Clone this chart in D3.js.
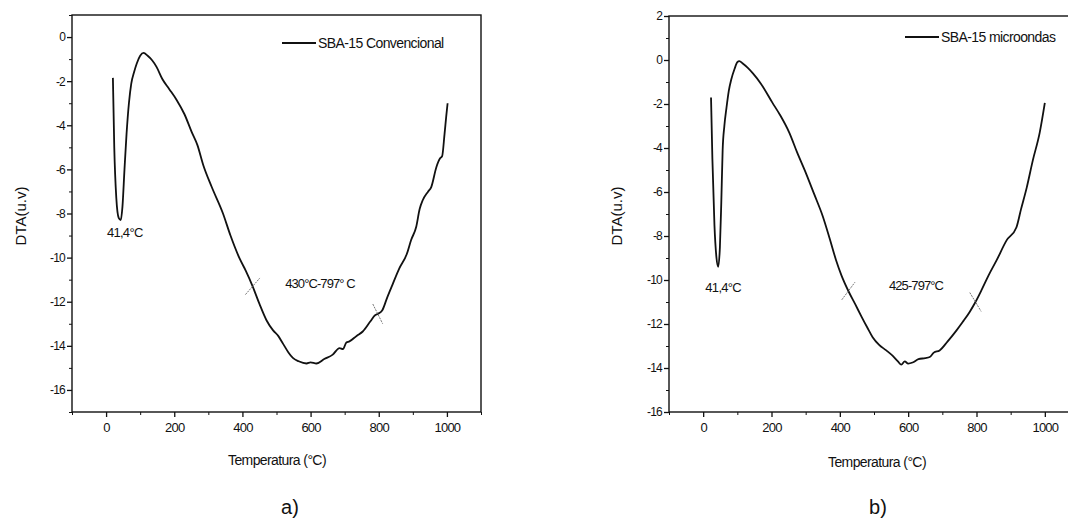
<!DOCTYPE html>
<html>
<head>
<meta charset="utf-8">
<script src="https://cdn.jsdelivr.net/npm/d3@7"></script>
<style>
  html, body { margin: 0; padding: 0; background: #fff; }
  svg { display: block; }
  text { font-family: "Liberation Sans", Arial, sans-serif; fill: #111; }
</style>
</head>
<body>
<svg id="chart" width="1068" height="524"></svg>
<script>
// DTA curve of conventional SBA-15: [temperature °C, signal u.v]
const convencionalData = [
  [20,-1.85],[24,-5.0],[30,-7.3],[37,-8.2],[43,-8.3],[48,-7.7],[54,-6.0],[60,-4.4],
  [67,-3.0],[74,-2.1],[82,-1.6],[90,-1.2],[100,-0.85],[110,-0.72],[122,-0.85],[135,-1.05],
  [148,-1.35],[165,-1.9],[185,-2.35],[207,-2.85],[230,-3.5],[251,-4.3],[268,-4.9],[285,-5.8],
  [310,-6.8],[343,-8.0],[365,-9.0],[392,-10.05],[410,-10.6],[430,-11.3],[450,-12.1],[471,-12.85],
  [490,-13.3],[505,-13.55],[519,-13.9],[535,-14.3],[548,-14.55],[565,-14.7],[588,-14.8],[600,-14.75],
  [617,-14.8],[640,-14.6],[665,-14.4],[685,-14.1],[695,-14.15],[705,-13.85],[714,-13.8],[735,-13.55],
  [753,-13.35],[775,-12.9],[790,-12.6],[797,-12.55],[810,-12.4],[825,-11.8],[841,-11.2],[860,-10.5],
  [882,-9.85],[895,-9.2],[910,-8.6],[920,-7.8],[929,-7.4],[945,-7.0],[954,-6.8],[969,-5.9],
  [980,-5.5],[986,-5.4],[993,-4.4],[998,-3.6],[1002,-3.0]
];

// DTA curve of microwave SBA-15
const microondasData = [
  [23,-1.7],[27,-4.5],[33,-7.5],[39,-9.0],[44,-9.4],[49,-8.5],[53,-6.5],[57,-4.1],
  [62,-3.0],[68,-2.2],[75,-1.4],[82,-0.9],[92,-0.4],[100,-0.1],[106,-0.05],[115,-0.15],
  [130,-0.35],[145,-0.6],[170,-1.1],[203,-1.95],[225,-2.5],[252,-3.3],[275,-4.2],[301,-5.15],
  [325,-6.1],[350,-7.1],[370,-8.1],[389,-9.1],[405,-9.8],[425,-10.5],[445,-11.1],[463,-11.65],
  [480,-12.15],[496,-12.6],[515,-12.95],[536,-13.2],[555,-13.45],[570,-13.7],[580,-13.85],[590,-13.7],
  [600,-13.8],[613,-13.75],[630,-13.6],[650,-13.55],[663,-13.5],[675,-13.3],[692,-13.2],[715,-12.8],
  [741,-12.3],[760,-11.9],[780,-11.45],[797,-11.0],[815,-10.45],[835,-9.8],[859,-9.1],[888,-8.2],
  [917,-7.6],[930,-6.8],[947,-5.8],[965,-4.55],[985,-3.3],[1000,-1.95]
];

const xTicks = [0, 200, 400, 600, 800, 1000];
const xMinorTicks = [-100, 100, 300, 500, 700, 900, 1100];
const yTicksA = [0, -2, -4, -6, -8, -10, -12, -14, -16];
const yTicksB = [2, 0, -2, -4, -6, -8, -10, -12, -14, -16];
const yMinorA = [1, -1, -3, -5, -7, -9, -11, -13, -15, -17];
const yMinorB = [1, -1, -3, -5, -7, -9, -11, -13, -15];

const legendNames = ["SBA-15 Convencional", "SBA-15 microondas"];
const peakLabels = ["41,4°C", "41,4°C"];
const peakTemps = [43, 44];
const rangeLabels = ["430°C-797° C", "425-797°C"];
const rangeTemps = [[430, 797], [425, 797]];
const panelLetters = ["a)", "b)"];

const panels = [
  { data: convencionalData, yDomain: [-17, 1], yTicks: yTicksA, yMinor: yMinorA,
    box: { x0: 72, x1: 481, y0: 15, y1: 412 },
    legend: { x: 282, y: 43 }, peakOff: { dx: 4, dy: 17 }, range: { x: 320, y: 288 },
    markDirs: [[1, -1.15], [0.5, 1]], title: { x: 277, y: 465 },
    yTitleX: 26, letterX: 290 },
  { data: microondasData, yDomain: [-16, 2], yTicks: yTicksB, yMinor: yMinorB,
    box: { x0: 669, x1: 1079, y0: 16, y1: 412 },
    legend: { x: 905, y: 37 }, peakOff: { dx: 5, dy: 25 }, range: { x: 916, y: 290 },
    markDirs: [[0.75, -1], [0.6, 1]], title: { x: 877, y: 467 },
    yTitleX: 622, letterX: 878 }
];

const svg = d3.select("#chart");
const intFmt = d => String(d);

panels.forEach((p, i) => {
  const b = p.box;
  const x = d3.scaleLinear().domain([-100, 1100]).range([b.x0, b.x1]);
  const y = d3.scaleLinear().domain(p.yDomain).range([b.y1, b.y0]);
  const g = svg.append("g");

  // frame
  g.append("rect")
    .attr("x", b.x0).attr("y", b.y0)
    .attr("width", b.x1 - b.x0).attr("height", b.y1 - b.y0)
    .attr("fill", "none").attr("stroke", "#111").attr("stroke-width", 1.4);

  // bottom axis
  const xAxis = d3.axisBottom(x).tickValues(xTicks).tickSize(5).tickSizeOuter(0).tickPadding(6).tickFormat(intFmt);
  const gx = g.append("g").attr("transform", `translate(0,${b.y1})`).call(xAxis);
  gx.select(".domain").remove();
  gx.selectAll("line").attr("stroke", "#111").attr("stroke-width", 1.3);
  gx.selectAll("text").style("font-size", "13px").style("letter-spacing", "-0.8px").attr("fill", "#111");
  const xMinor = d3.axisBottom(x).tickValues(xMinorTicks).tickSize(3).tickFormat("");
  const gxm = g.append("g").attr("transform", `translate(0,${b.y1})`).call(xMinor);
  gxm.select(".domain").remove();
  gxm.selectAll("line").attr("stroke", "#111");

  // left axis
  const yAxis = d3.axisLeft(y).tickValues(p.yTicks).tickSize(5).tickSizeOuter(0).tickPadding(2).tickFormat(intFmt);
  const gy = g.append("g").attr("transform", `translate(${b.x0},0)`).call(yAxis);
  gy.select(".domain").remove();
  gy.selectAll("line").attr("stroke", "#111").attr("stroke-width", 1.3);
  gy.selectAll("text").style("font-size", "12px").style("letter-spacing", "-0.8px").attr("fill", "#111");
  const yMinor = d3.axisLeft(y).tickValues(p.yMinor).tickSize(3).tickFormat("");
  const gym = g.append("g").attr("transform", `translate(${b.x0},0)`).call(yMinor);
  gym.select(".domain").remove();
  gym.selectAll("line").attr("stroke", "#111");

  // axis titles
  g.append("text")
    .attr("x", p.title.x).attr("y", p.title.y)
    .attr("text-anchor", "middle")
    .style("font-size", "14px").style("letter-spacing", "-0.6px")
    .text("Temperatura (°C)");
  g.append("text")
    .attr("transform", `translate(${p.yTitleX},216) rotate(-90)`)
    .attr("text-anchor", "middle")
    .style("font-size", "15px")
    .text("DTA(u.v)");

  // curve
  const line = d3.line().x(d => x(d[0])).y(d => y(d[1])).curve(d3.curveMonotoneX);
  g.append("path").datum(p.data)
    .attr("d", line)
    .attr("fill", "none").attr("stroke", "#111")
    .attr("stroke-width", 1.8).attr("stroke-linejoin", "round");

  // interpolated value of the curve at a given temperature
  const at = t => {
    const k = d3.bisector(d => d[0]).left(p.data, t);
    const a = p.data[Math.max(0, k - 1)], c = p.data[Math.min(p.data.length - 1, k)];
    if (a[0] === c[0]) return a[1];
    return a[1] + (c[1] - a[1]) * (t - a[0]) / (c[0] - a[0]);
  };

  // peak label under the endothermic minimum
  const pt = peakTemps[i];
  g.append("text")
    .attr("x", x(pt) + p.peakOff.dx)
    .attr("y", y(at(pt)) + p.peakOff.dy)
    .attr("text-anchor", "middle")
    .style("font-size", "13px").style("letter-spacing", "-0.7px")
    .text(peakLabels[i]);

  // temperature range markers crossing the curve
  rangeTemps[i].forEach((t, j) => {
    const cx = x(t), cy = y(at(t));
    const [dx, dy] = p.markDirs[j];
    const len = 11;
    const n = Math.hypot(dx, dy);
    g.append("line")
      .attr("x1", cx - dx / n * len).attr("y1", cy - dy / n * len)
      .attr("x2", cx + dx / n * len).attr("y2", cy + dy / n * len)
      .attr("stroke", "#666").attr("stroke-width", 0.9)
      .attr("stroke-dasharray", "2,1");
  });
  g.append("text")
    .attr("x", p.range.x).attr("y", p.range.y)
    .attr("text-anchor", "middle")
    .style("font-size", "13px").style("letter-spacing", "-0.9px")
    .text(rangeLabels[i]);

  // legend
  g.append("line")
    .attr("x1", p.legend.x).attr("x2", p.legend.x + 34)
    .attr("y1", p.legend.y).attr("y2", p.legend.y)
    .attr("stroke", "#111").attr("stroke-width", 1.8);
  g.append("text")
    .attr("x", p.legend.x + 36).attr("y", p.legend.y + 5)
    .style("font-size", "14px").style("letter-spacing", "-0.6px")
    .text(legendNames[i]);

  // panel letter
  svg.append("text")
    .attr("x", p.letterX).attr("y", 514)
    .attr("text-anchor", "middle")
    .style("font-size", "20px")
    .text(panelLetters[i]);
});
</script>
</body>
</html>
